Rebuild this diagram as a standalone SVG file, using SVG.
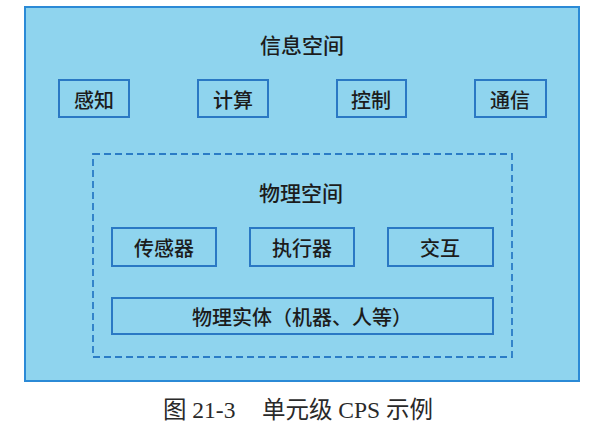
<svg xmlns="http://www.w3.org/2000/svg" width="602" height="436" viewBox="0 0 602 436">
<style>
.bg{fill:#ffffff}
.outer{fill:#8fd4ee;stroke:#2b8ad6;stroke-width:2}
.dash{fill:none;stroke:#2a7cc6;stroke-width:1.8;stroke-dasharray:7 4}
.box{fill:#8fd4ee;stroke:#2a78c4;stroke-width:2}
.t{font-family:"Noto Sans CJK SC","Noto Sans",sans-serif;font-size:20px;font-weight:500;fill:#1c1c1c;text-anchor:middle;dominant-baseline:central}
.cap{font-family:"Liberation Serif","Noto Sans CJK SC",serif;font-size:23.5px;fill:#2a2a2a;dominant-baseline:central}
</style>
<rect class="bg" x="0" y="0" width="602" height="436"/>
<g id="cyber-space">
<rect class="outer" x="25" y="7" width="554" height="374"/>
<text class="t" x="302" y="44" style="font-size:21px">信息空间</text>
</g>
<g id="sense"><rect class="box" x="59" y="80" width="70" height="37"/><text class="t" x="94" y="99">感知</text></g>
<g id="compute"><rect class="box" x="198" y="80" width="70" height="37"/><text class="t" x="233" y="99">计算</text></g>
<g id="control"><rect class="box" x="337" y="80" width="69" height="37"/><text class="t" x="371" y="99">控制</text></g>
<g id="comm"><rect class="box" x="475" y="80" width="71" height="37"/><text class="t" x="510" y="99">通信</text></g>
<g id="physical-space">
<rect class="dash" x="93" y="154" width="419" height="203"/>
<text class="t" x="301" y="192" style="font-size:21px">物理空间</text>
</g>
<g id="sensor"><rect class="box" x="112" y="228" width="104" height="38"/><text class="t" x="164" y="247">传感器</text></g>
<g id="actuator"><rect class="box" x="250" y="228" width="104" height="38"/><text class="t" x="302" y="247">执行器</text></g>
<g id="interaction"><rect class="box" x="388" y="228" width="105" height="38"/><text class="t" x="440" y="247">交互</text></g>
<g id="entity"><rect class="box" x="112" y="298" width="381" height="36"/><text class="t" x="302" y="316">物理实体（机器、人等）</text></g>
<g id="connectors"></g>
<text class="cap" x="163" y="410">图 21-3<tspan x="262">单元级 CPS 示例</tspan></text>
</svg>
